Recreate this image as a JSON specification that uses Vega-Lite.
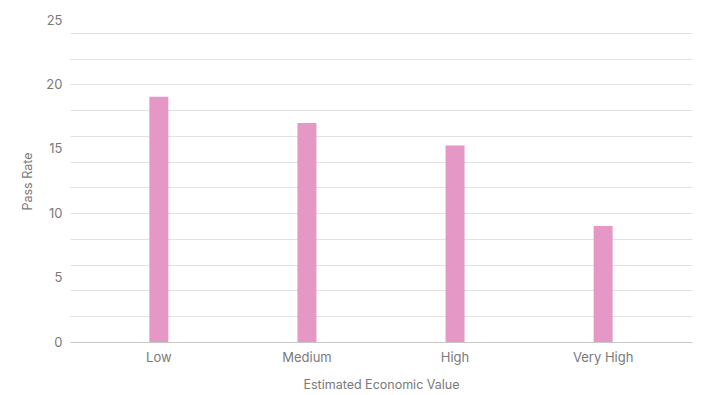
{
  "$schema": "https://vega.github.io/schema/vega-lite/v6.json",
  "autosize": {"type": "none"},
  "width": 622,
  "height": 322,
  "padding": {"left": 70, "top": 20, "right": 28, "bottom": 53},
  "background": "white",
  "config": {
    "view": {"stroke": null},
    "font": "Inter",
    "axis": {"labelFont": "Inter", "titleFont": "Inter", "labelColor": "#7a7a7a", "titleColor": "#7a7a7a", "labelFontSize": 13, "titleFontSize": 12.5, "titleFontWeight": "normal", "gridColor": "#e2e2e2", "gridWidth": 1}
  },
  "data": {
    "values": [
      {"category": "Low", "pass_rate": 19.05},
      {"category": "Medium", "pass_rate": 17.0},
      {"category": "High", "pass_rate": 15.25},
      {"category": "Very High", "pass_rate": 9.0}
    ]
  },
  "encoding": {
    "x": {
      "field": "category",
      "type": "nominal",
      "sort": ["Low", "Medium", "High", "Very High"],
      "scale": {"paddingInner": 0, "paddingOuter": 0.1},
      "axis": {"title": "Estimated Economic Value", "labelAngle": 0, "ticks": false, "domain": true, "domainColor": "#c8c8c8", "labelPadding": 9, "titlePadding": 14, "grid": false}
    }
  },
  "layer": [
    {
      "mark": {"type": "point", "opacity": 0},
      "encoding": {
        "y": {
          "field": "pass_rate",
          "type": "quantitative",
          "scale": {"domain": [0, 25], "nice": false, "zero": true},
          "axis": {"orient": "left", "values": [0, 2, 4, 6, 8, 10, 12, 14, 16, 18, 20, 22, 24], "grid": true, "labels": false, "ticks": false, "domain": false, "title": null}
        }
      }
    },
    {
      "mark": {"type": "bar", "width": 19, "color": "#e598c6"},
      "encoding": {
        "y": {
          "field": "pass_rate",
          "type": "quantitative",
          "scale": {"domain": [0, 25], "nice": false, "zero": true},
          "axis": {"orient": "left", "values": [0, 5, 10, 15, 20, 25], "grid": false, "ticks": false, "domain": false, "labelPadding": 8, "title": "Pass Rate", "titlePadding": 11}
        }
      }
    }
  ],
  "resolve": {"axis": {"y": "independent"}}
}
